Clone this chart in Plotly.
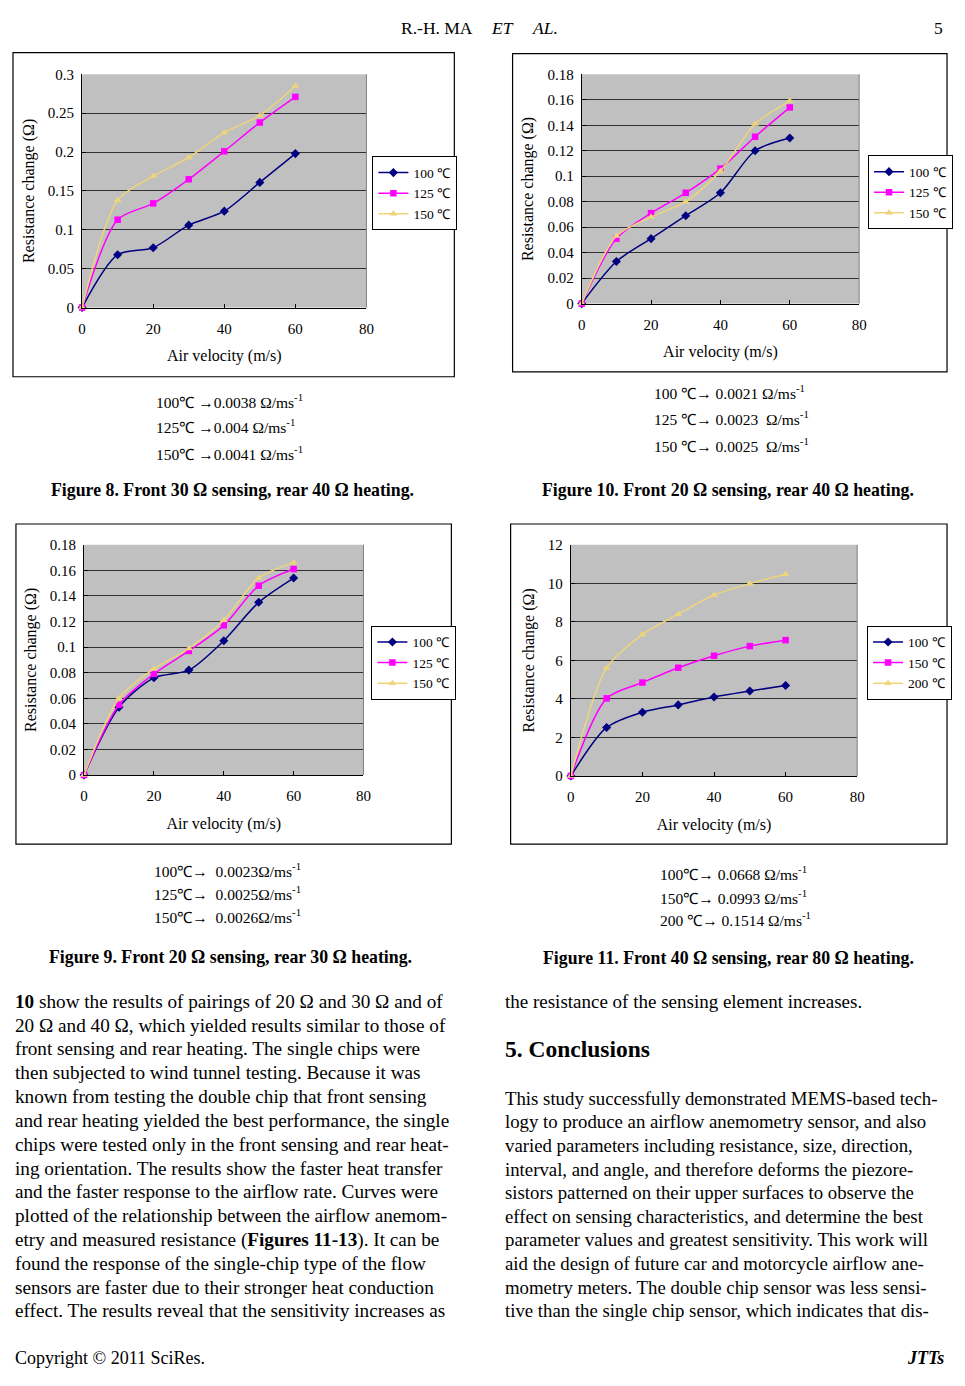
import plotly.graph_objects as go

# The page body keeps its default 8 px margin: the figure is 16 px smaller than
# the 965x1386 window and all positions below are given in window pixels.
W, H = 965, 1386
M = 8
FW, FH = W - 2 * M, H - 2 * M
def X(p): return (p - M) / FW
def Y(p): return 1 - (p - M) / FH

FONT = "Liberation Serif"

# ---------------- data ----------------
velocity = [0, 10, 20, 30, 40, 50, 60]

fig8_names = ["100 ℃", "125 ℃", "150 ℃"]
fig8_100 = [0, 0.068, 0.077, 0.106, 0.124, 0.161, 0.198]
fig8_125 = [0, 0.113, 0.134, 0.165, 0.201, 0.238, 0.271]
fig8_150 = [0, 0.138, 0.169, 0.193, 0.225, 0.247, 0.285]

fig10_names = ["100 ℃", "125 ℃", "150 ℃"]
fig10_100 = [0, 0.033, 0.051, 0.069, 0.087, 0.120, 0.130]
fig10_125 = [0, 0.051, 0.071, 0.087, 0.106, 0.131, 0.154]
fig10_150 = [0, 0.053, 0.068, 0.080, 0.104, 0.141, 0.159]

fig9_names = ["100 ℃", "125 ℃", "150 ℃"]
fig9_100 = [0, 0.053, 0.076, 0.082, 0.105, 0.135, 0.154]
fig9_125 = [0, 0.055, 0.079, 0.097, 0.117, 0.148, 0.161]
fig9_150 = [0, 0.060, 0.083, 0.099, 0.121, 0.154, 0.166]

fig11_names = ["100 ℃", "150 ℃", "200 ℃"]
fig11_100 = [0, 2.52, 3.31, 3.69, 4.10, 4.41, 4.70]
fig11_150 = [0, 4.03, 4.85, 5.62, 6.24, 6.74, 7.05]
fig11_200 = [0, 5.61, 7.34, 8.40, 9.39, 9.98, 10.47]

fig8_notes = ["100℃ →0.0038 Ω/ms<sup>-1</sup>", "125℃ →0.004 Ω/ms<sup>-1</sup>", "150℃ →0.0041 Ω/ms<sup>-1</sup>"]
fig10_notes = ["100 ℃→ 0.0021 Ω/ms<sup>-1</sup>", "125 ℃→ 0.0023  Ω/ms<sup>-1</sup>", "150 ℃→ 0.0025  Ω/ms<sup>-1</sup>"]
fig9_notes = ["100℃→  0.0023Ω/ms<sup>-1</sup>", "125℃→  0.0025Ω/ms<sup>-1</sup>", "150℃→  0.0026Ω/ms<sup>-1</sup>"]
fig11_notes = ["100℃→ 0.0668 Ω/ms<sup>-1</sup>", "150℃→ 0.0993 Ω/ms<sup>-1</sup>", "200 ℃→ 0.1514 Ω/ms<sup>-1</sup>"]

captions = ["Figure 8. Front 30 Ω sensing, rear 40 Ω heating.",
            "Figure 10. Front 20 Ω sensing, rear 40 Ω heating.",
            "Figure 9. Front 20 Ω sensing, rear 30 Ω heating.",
            "Figure 11. Front 40 Ω sensing, rear 80 Ω heating."]

left_text = [
    "<b>10</b> show the results of pairings of 20 Ω and 30 Ω and of",
    "20 Ω and 40 Ω, which yielded results similar to those of",
    "front sensing and rear heating. The single chips were",
    "then subjected to wind tunnel testing. Because it was",
    "known from testing the double chip that front sensing",
    "and rear heating yielded the best performance, the single",
    "chips were tested only in the front sensing and rear heat-",
    "ing orientation. The results show the faster heat transfer",
    "and the faster response to the airflow rate. Curves were",
    "plotted of the relationship between the airflow anemom-",
    "etry and measured resistance (<b>Figures 11-13</b>). It can be",
    "found the response of the single-chip type of the flow",
    "sensors are faster due to their stronger heat conduction",
    "effect. The results reveal that the sensitivity increases as",
]
right_text = [
    "This study successfully demonstrated MEMS-based tech-",
    "logy to produce an airflow anemometry sensor, and also",
    "varied parameters including resistance, size, direction,",
    "interval, and angle, and therefore deforms the piezore-",
    "sistors patterned on their upper surfaces to observe the",
    "effect on sensing characteristics, and determine the best",
    "parameter values and greatest sensitivity. This work will",
    "aid the design of future car and motorcycle airflow ane-",
    "mometry meters. The double chip sensor was less sensi-",
    "tive than the single chip sensor, which indicates that dis-",
]

# ---------------- styling ----------------
colors = ["#000080", "#FF00FF", "#EED47A"]
symbols = ["diamond", "square", "triangle-up"]

charts = [
    dict(plot=(79, 367, 67, 303), frame=(9, 45, 456, 373), leg=(373, 150),
         yr=[0, 0.3], dt=0.05, series=[fig8_100, fig8_125, fig8_150], names=fig8_names),
    dict(plot=(585, 866, 67, 299), frame=(515, 46, 955, 368), leg=(875, 149),
         yr=[0, 0.18], dt=0.02, series=[fig10_100, fig10_125, fig10_150], names=fig10_names),
    dict(plot=(81, 364, 543, 776), frame=(12, 522, 453, 846), leg=(372, 625),
         yr=[0, 0.18], dt=0.02, series=[fig9_100, fig9_125, fig9_150], names=fig9_names),
    dict(plot=(574, 864, 543, 777), frame=(513, 522, 955, 846), leg=(874, 625),
         yr=[0, 12], dt=2, series=[fig11_100, fig11_150, fig11_200], names=fig11_names),
]

fig = go.Figure()
layout = dict(width=FW, height=FH, margin=dict(l=0, r=0, t=0, b=0),
              paper_bgcolor="white", plot_bgcolor="#C0C0C0",
              font=dict(family=FONT, color="black", size=15),
              shapes=[], annotations=[])

for i, c in enumerate(charts):
    n = "" if i == 0 else str(i + 1)
    legname = "legend" + n
    x0, x1, y0, y1 = c["plot"]
    for j, (vals, name) in enumerate(zip(c["series"], c["names"])):
        fig.add_trace(go.Scatter(
            x=velocity, y=vals, name=name, mode="lines+markers",
            xaxis="x" + n, yaxis="y" + n, legend=legname,
            line=dict(color=colors[j], width=1.5, shape="spline", smoothing=0.8),
            marker=dict(color=colors[j], symbol=symbols[j], size=7 if j != 1 else 6.5),
            cliponaxis=False,
        ))
    layout["xaxis" + n] = dict(domain=[X(x0), X(x1)], anchor="y" + n, range=[0, 80], dtick=20,
                               showgrid=False, zeroline=False, showline=True, linecolor="black",
                               linewidth=1, ticks="inside", ticklen=4, tickcolor="black",
                               ticklabelstandoff=7,
                               tickfont=dict(family=FONT, size=15),
                               title=dict(text="Air velocity (m/s)", standoff=14,
                                          font=dict(family=FONT, size=16)))
    layout["yaxis" + n] = dict(domain=[Y(y1), Y(y0)], anchor="x" + n, range=c["yr"], dtick=c["dt"],
                               showgrid=True, gridcolor="#303030", gridwidth=1, zeroline=False,
                               showline=True, linecolor="black", linewidth=1, mirror=False,
                               ticks="inside", ticklen=4, tickcolor="black",
                               ticklabelstandoff=4,
                               tickfont=dict(family=FONT, size=15),
                               title=dict(text="Resistance change (Ω)", standoff=9,
                                          font=dict(family=FONT, size=16)))
    layout["shapes"].append(dict(type="line", xref="paper", yref="paper",
                                 x0=X(x1), x1=X(x1), y0=Y(y1), y1=Y(y0),
                                 line=dict(color="#808080", width=1)))
    fx0, fy0, fx1, fy1 = c["frame"]
    layout["shapes"].append(dict(type="rect", xref="paper", yref="paper",
                                 x0=X(fx0), x1=X(fx1), y0=Y(fy1), y1=Y(fy0),
                                 line=dict(color="black", width=1.2), layer="below"))
    lx, ly = c["leg"]
    layout[legname] = dict(x=X(lx), y=Y(ly), xanchor="left", yanchor="top",
                           bgcolor="white", bordercolor="black", borderwidth=1,
                           font=dict(family=FONT, size=13.5, color="black"),
                           tracegroupgap=0, itemwidth=30)

def ann(text, x, y, size=15, xanchor="left", bold=False, **kw):
    layout["annotations"].append(dict(
        text=("<b>%s</b>" % text) if bold else text, x=X(x), y=Y(y),
        xref="paper", yref="paper", xanchor=xanchor, yanchor="middle",
        showarrow=False, font=dict(family=FONT, size=size, color="black"), **kw))

# header
ann("R.-H. MA", 400, 20, size=17.5)
ann("<i>ET</i>", 491, 20, size=17.5)
ann("<i>AL.</i>", 533, 20, size=17.5)
ann("5", 953, 20, size=17.5, xanchor="right")

# figure notes
for t, yy in zip(fig8_notes, [398, 423, 450]):
    ann(t, 152, yy, size=15.5)
for t, yy in zip(fig10_notes, [388, 415, 442]):
    ann(t, 656, yy, size=15.5)
for t, yy in zip(fig9_notes, [872, 895, 919]):
    ann(t, 150, yy, size=15.5)
for t, yy in zip(fig11_notes, [875, 899, 922]):
    ann(t, 662, yy, size=15.5)

ann(captions[0], 231, 488, size=17.8, xanchor="center", bold=True)
ann(captions[1], 733, 488, size=17.8, xanchor="center", bold=True)
ann(captions[2], 229, 960, size=17.8, xanchor="center", bold=True)
ann(captions[3], 734, 961, size=17.8, xanchor="center", bold=True)

# body text
for k, t in enumerate(left_text):
    ann(t, M + 1, 1005 + k * 24.1, size=19.2)
ann("the resistance of the sensing element increases.", 505, 1005, size=19)
ann("<b>5. Conclusions</b>", 505, 1053, size=23.5)
for k, t in enumerate(right_text):
    ann(t, 505, 1103 + k * 23.9, size=18.8)

# footer
ann("Copyright © 2011 SciRes.", M + 1, 1366, size=18)
ann("<b><i>JTTs</i></b>", W - M - 3, 1366, size=18, xanchor="right")

fig.update_layout(**layout)
fig.write_html("out.html", config={"displayModeBar": False})
